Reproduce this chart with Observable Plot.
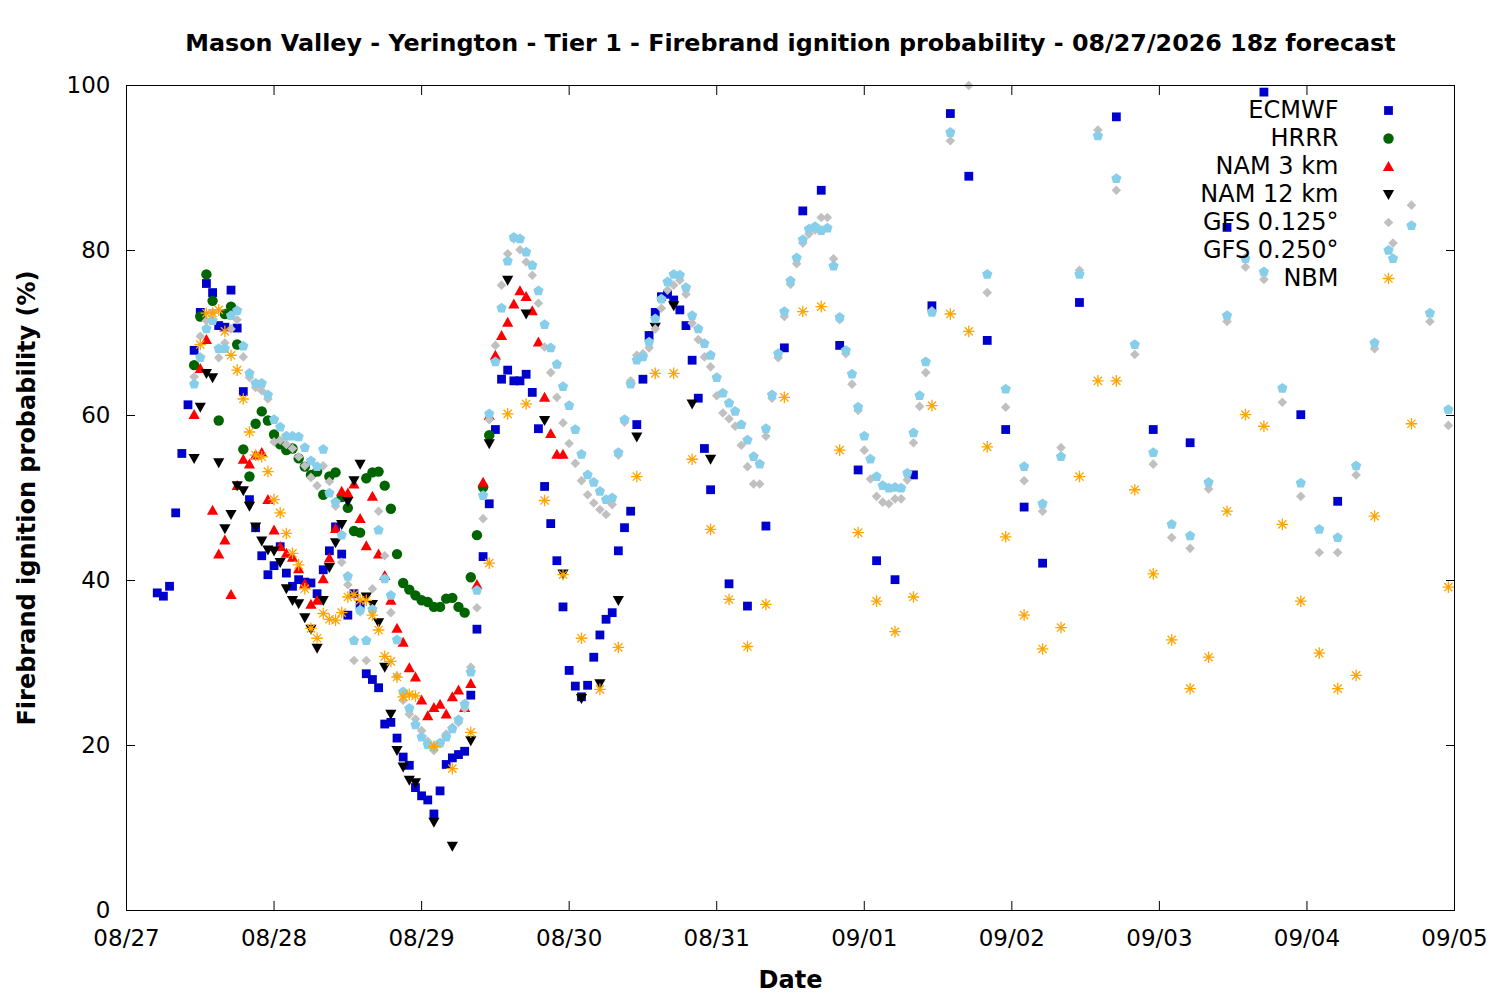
<!DOCTYPE html>
<html>
<head>
<meta charset="utf-8">
<script src="https://cdn.jsdelivr.net/npm/d3@7"></script>
<script src="https://cdn.jsdelivr.net/npm/@observablehq/plot@0.6"></script>
<style>
  html, body { margin: 0; padding: 0; background: #fff; }
  #chart { width: 1500px; height: 1000px; }
</style>
</head>
<body>
<div id="chart"></div>
<script>
// ---------- texts ----------
const titleText = "Mason Valley - Yerington - Tier 1 - Firebrand ignition probability - 08/27/2026 18z forecast";
const yLabelText = "Firebrand ignition probability (%)";
const xLabelText = "Date";
const seriesNames = ["ECMWF", "HRRR", "NAM 3 km", "NAM 12 km", "GFS 0.125°", "GFS 0.250°", "NBM"];
const xTickLabels = ["08/27", "08/28", "08/29", "08/30", "08/31", "09/01", "09/02", "09/03", "09/04", "09/05"];
const yTicks = [0, 20, 40, 60, 80, 100];

// ---------- values (hours counted from 08/27 00h) ----------
// ECMWF: hourly from h5, 3-hourly from h98, 6-hourly from h155
const ecmwfHourly = [38.5, 38.1, 39.3, 48.2, 55.4, 61.3, 67.9, 72.5, 76.0, 74.9, 70.9, 70.7, 75.2, 70.6, 62.9,
  49.8, 46.4, 43.0, 40.7, 41.8, 44.1, 40.9, 39.3, 40.1, 39.8, 39.7, 38.4, 41.3, 43.6, 46.5, 43.2, 35.8, 38.4, 37.0,
  28.7, 28.0, 27.0, 22.6, 22.8, 20.9, 18.6, 17.6, 14.9, 13.9, 13.4, 11.7, 14.5, 17.7, 18.5, 18.9, 19.3, 26.1, 34.1,
  42.9, 49.3, 58.3, 64.4, 65.5, 64.2, 64.2, 65.0, 62.8, 58.4, 51.4, 46.9, 42.4, 36.8, 29.1, 27.2, 25.9, 27.3, 30.7,
  33.4, 35.3, 36.1, 43.6, 46.4, 48.4, 58.9, 64.4, 69.7, 72.5, 74.4, 74.7, 74.0, 72.8, 70.9, 66.7, 62.1, 56.0, 51.0];
const ecmwf3h = [39.6, 36.9, 46.6, 68.2, 84.8, 87.3, 68.5, 53.4, 42.4, 40.1, 52.8, 73.3, 96.6, 89.0, 69.1, 58.3, 48.9, 42.1];
const ecmwf6h = [73.7, 96.2, 58.3, 56.7, 82.8, 99.2, 60.1, 49.6];

// HRRR: hourly from h11
const hrrrHourly = [66.1, 72.0, 77.1, 73.9, 59.4, 72.3, 73.2, 68.6, 55.9, 52.6, 59.0, 60.5, 59.4, 57.7, 56.5, 55.8,
  56.0, 54.8, 53.8, 52.8, 53.2, 50.4, 52.6, 53.1, 50.1, 48.8, 46.0, 45.8, 52.4, 53.1, 53.2, 51.5, 48.7, 43.2, 39.7,
  38.9, 38.2, 37.6, 37.4, 36.8, 36.8, 37.8, 37.9, 36.8, 36.1, 40.4, 45.5, 51.3, 57.6];

// NAM 3 km: hourly from h11
const nam3Hourly = [60.1, 65.7, 69.2, 48.5, 43.2, 44.9, 38.3, 51.5, 54.7, 54.1, 55.2, 55.5, 49.8, 46.1, 44.1, 43.3,
  42.8, 41.4, 39.6, 37.1, 37.6, 40.2, 42.7, 46.3, 50.8, 50.6, 51.7, 47.5, 44.2, 50.2, 43.2, 40.6, 37.6, 34.2, 32.5,
  29.4, 28.3, 25.5, 23.6, 24.6, 25.0, 23.8, 25.9, 26.7, 24.6, 27.5, 39.5, 51.9, 60.0, 67.3, 69.7, 71.3, 73.5, 75.1,
  74.4, 72.7, 68.9, 62.2, 57.8, 55.3, 55.3];

// NAM 12 km: hourly from h11, 3-hourly from h50
const nam12Hourly = [54.8, 61.0, 65.1, 64.6, 54.3, 46.3, 48.0, 51.5, 50.9, 49.0, 46.5, 44.8, 43.7, 43.6, 42.2, 39.0,
  37.6, 37.2, 35.5, 34.1, 31.8, 37.6, 41.6, 44.6, 46.8, 49.6, 52.1, 54.1, 38.0, 37.1, 34.9, 29.5, 23.8, 19.4, 17.4,
  15.8, 15.5];
const nam12_3h = [10.7, 7.8, 20.6, 56.6, 76.4, 72.3, 59.4, 40.8, 25.7, 27.5, 37.6, 57.4, 70.7, 73.3, 61.4, 54.7];

// GFS 0.125°: hourly from h11, 3-hourly from h134
const gfs0125Hourly = [64.7, 69.6, 71.5, 72.5, 67.0, 68.8, 70.5, 71.6, 67.1, 64.6, 63.4, 63.0, 62.0, 56.8, 57.0,
  56.5, 56.0, 55.0, 53.9, 52.5, 51.5, 53.9, 52.0, 49.0, 42.2, 39.5, 30.3, 36.2, 30.3, 39.0, 48.4, 43.0, 36.1, 28.4,
  25.5, 23.8, 23.2, 21.8, 20.5, 19.4, 20.2, 21.4, 22.2, 22.8, 24.5, 29.5, 36.7, 47.5, 59.5, 68.5, 75.8, 79.6, 81.4,
  80.1, 78.6, 77.0, 73.6, 68.3, 65.2, 62.2, 59.1, 56.6, 54.2, 52.1, 50.4, 49.4, 48.6, 48.0, 49.2, 55.2, 59.2, 64.2,
  67.3, 67.5, 68.2, 70.5, 73.0, 75.2, 75.8, 76.4, 74.7, 71.2, 69.2, 67.1, 65.9, 62.4, 60.3, 59.6, 58.7, 56.4, 53.8,
  51.7, 51.7, 57.5, 62.1, 67.0, 72.0, 75.9, 78.4, 80.9, 82.0, 82.5, 84.0, 84.0, 79.0, 71.6, 67.5, 63.8, 60.6, 55.8,
  52.3, 50.2, 49.5, 49.3, 49.9, 49.9, 52.2, 56.7, 61.1, 65.2, 72.7];
const gfs0125_3h = [93.3, 100.0, 74.9, 61.0, 52.1, 48.4, 56.1, 77.6, 94.6, 87.3, 67.4, 54.1, 45.2, 43.9, 51.1, 71.4,
  78.0, 76.5, 61.6, 50.2, 43.4, 43.4, 52.8, 68.1, 80.9, 85.5, 71.4, 58.8];

// GFS 0.250°: hourly from h11, 3-hourly from h134 (null = above the plot)
const gfs025Hourly = [63.8, 67.0, 70.5, 71.5, 68.1, 68.1, 72.1, 72.7, 68.4, 65.1, 63.9, 63.9, 62.5, 59.5, 58.6,
  57.5, 57.5, 57.4, 56.1, 54.5, 53.8, 55.9, 50.6, 49.5, 45.5, 40.5, 32.7, 36.4, 32.7, 36.5, 46.1, 40.2, 38.2, 32.8,
  26.5, 24.5, 22.5, 21.0, 20.1, 19.8, 20.3, 21.0, 22.0, 23.1, 25.0, 28.9, 38.8, 50.3, 60.2, 66.5, 73.0, 78.7, 81.6,
  81.4, 79.8, 78.2, 75.1, 71.0, 68.2, 66.2, 63.5, 61.2, 58.3, 55.3, 52.8, 51.9, 50.8, 49.8, 50.0, 55.5, 59.5, 63.8,
  66.7, 67.1, 68.9, 71.7, 74.1, 76.2, 77.1, 77.0, 75.5, 72.1, 70.5, 68.7, 67.3, 64.6, 62.7, 61.5, 60.5, 58.9, 57.0,
  55.0, 54.1, 58.4, 62.5, 67.5, 72.6, 76.3, 79.1, 81.3, 82.6, 82.9, 82.4, 82.7, 78.1, 71.9, 67.9, 65.0, 61.0, 57.5,
  54.7, 52.6, 51.5, 51.2, 51.3, 51.2, 53.0, 57.9, 62.4, 66.5, 72.5];
const gfs025_3h = [94.3, null, 77.1, 63.2, 53.8, 49.3, 55.0, 77.1, 93.9, 88.7, 68.6, 55.5, 46.8, 45.4, 51.9, 72.1,
  79.0, 77.4, 63.3, 51.8, 46.2, 45.2, 53.9, 68.8, 79.0, 83.0, 72.4, 60.7];

// NBM: hourly from h12, 3-hourly from h50, 6-hourly from h209
const nbmHourly = [68.6, 72.4, 72.4, 72.8, 70.2, 67.3, 65.5, 62.0, 58.0, 55.2, 55.0, 53.2, 49.8, 48.2, 45.7, 43.3,
  41.9, 39.0, 34.2, 33.0, 36.0, 35.3, 35.2, 36.1, 38.0, 38.3, 37.6, 37.6, 35.8, 34.0, 30.8, 30.2, 28.3, 25.9, 26.2, 26.0];
const nbm3h = [19.9, 17.2, 21.6, 42.1, 60.2, 61.4, 49.7, 40.7, 33.0, 26.8, 31.9, 52.6, 65.1, 65.1, 54.7, 46.2, 37.7,
  32.0, 37.1, 62.2, 72.6, 73.2, 55.8, 45.8, 37.5, 33.8, 38.0, 61.2, 72.3, 70.2, 56.2, 45.3, 35.8, 31.7, 34.3, 52.6,
  64.2, 64.2, 51.0, 40.8, 32.8, 26.9, 30.7, 48.4, 60.1, 58.7, 46.8, 37.5, 31.2, 26.9, 28.5, 47.8];
const nbm6h = [59.0, 39.2];

// ---------- build table ----------
const baseMs = Date.UTC(2026, 7, 27);
const seg = (values, startHour, step) => values.map((v, i) => ({h: startHour + i * step, v}));
const segments = {
  "ECMWF": [seg(ecmwfHourly, 5, 1), seg(ecmwf3h, 98, 3), seg(ecmwf6h, 155, 6)],
  "HRRR": [seg(hrrrHourly, 11, 1)],
  "NAM 3 km": [seg(nam3Hourly, 11, 1)],
  "NAM 12 km": [seg(nam12Hourly, 11, 1), seg(nam12_3h, 50, 3)],
  "GFS 0.125°": [seg(gfs0125Hourly, 11, 1), seg(gfs0125_3h, 134, 3)],
  "GFS 0.250°": [seg(gfs025Hourly, 11, 1), seg(gfs025_3h, 134, 3)],
  "NBM": [seg(nbmHourly, 12, 1), seg(nbm3h, 50, 3), seg(nbm6h, 209, 6)]
};
const rows = [];
for (const name of seriesNames) {
  for (const s of segments[name]) for (const p of s) {
    if (p.v == null) continue;
    rows.push({series: name, time: new Date(baseMs + p.h * 3600000), value: p.v});
  }
}
const xTicks = xTickLabels.map(l => {
  const [m, d] = l.split("/").map(Number);
  return new Date(Date.UTC(2026, m - 1, d));
});

// ---------- symbols ----------
const R = (size) => Math.sqrt(size / Math.PI) / 5;
const symSquare = {draw(c, size) { const k = R(size), s = 4.4 * k; c.rect(-s, -s, 2 * s, 2 * s); }};
const symCircle = {draw(c, size) { const k = R(size), r = 5.2 * k; c.moveTo(r, 0); c.arc(0, 0, r, 0, 2 * Math.PI); }};
const symUp = {draw(c, size) { const k = R(size); c.moveTo(0, -5.6 * k); c.lineTo(5.6 * k, 4.4 * k); c.lineTo(-5.6 * k, 4.4 * k); c.closePath(); }};
const symDown = {draw(c, size) { const k = R(size); c.moveTo(0, 5.6 * k); c.lineTo(5.6 * k, -4.4 * k); c.lineTo(-5.6 * k, -4.4 * k); c.closePath(); }};
const symDiamond = {draw(c, size) { const k = R(size), s = 4.8 * k; c.moveTo(0, -s); c.lineTo(s, 0); c.lineTo(0, s); c.lineTo(-s, 0); c.closePath(); }};
const symPentagon = {draw(c, size) {
  const k = R(size), r = 5.4 * k;
  for (let i = 0; i < 5; i++) {
    const a = -Math.PI / 2 + i * 2 * Math.PI / 5;
    if (i === 0) c.moveTo(r * Math.cos(a), r * Math.sin(a)); else c.lineTo(r * Math.cos(a), r * Math.sin(a));
  }
  c.closePath();
}};
const symStar8 = {draw(c, size) {
  const k = R(size), r = 5.8 * k;
  for (let i = 0; i < 4; i++) {
    const a = i * Math.PI / 4;
    c.moveTo(-r * Math.cos(a), -r * Math.sin(a)); c.lineTo(r * Math.cos(a), r * Math.sin(a));
  }
}};
const styles = {
  "ECMWF": {symbol: symSquare, fill: "#0000cd", stroke: "none"},
  "HRRR": {symbol: symCircle, fill: "#006400", stroke: "none"},
  "NAM 3 km": {symbol: symUp, fill: "#ff0000", stroke: "none"},
  "NAM 12 km": {symbol: symDown, fill: "#000000", stroke: "none"},
  "GFS 0.125°": {symbol: symDiamond, fill: "#c0c0c0", stroke: "none"},
  "GFS 0.250°": {symbol: symPentagon, fill: "#87ceeb", stroke: "none"},
  "NBM": {symbol: symStar8, fill: "none", stroke: "#ffa500", strokeWidth: 1.3}
};

// ---------- plot ----------
const marks = [];
for (const name of seriesNames) {
  marks.push(Plot.dot(rows.filter(d => d.series === name), {x: "time", y: "value", r: 5, ...styles[name]}));
}
marks.push(Plot.frame({stroke: "black", strokeWidth: 1}));
marks.push(Plot.axisX({anchor: "bottom", ticks: xTicks, tickSize: -9, tickPadding: 28,
  tickFormat: (d, i) => xTickLabels[i], label: null, fontSize: 23}));
marks.push(Plot.axisX({anchor: "top", ticks: xTicks, tickSize: -9, tickFormat: () => "", label: null}));
marks.push(Plot.axisY({anchor: "left", ticks: yTicks, tickSize: -9, tickPadding: 25,
  tickFormat: d => String(d), label: null, fontSize: 23}));
marks.push(Plot.axisY({anchor: "right", ticks: yTicks, tickSize: -9, tickFormat: () => "", label: null}));
marks.push(Plot.text([titleText], {frameAnchor: "top", dy: -42, text: d => d, fontWeight: "bold", fontSize: 23.8,
  textAnchor: "middle", lineAnchor: "middle"}));
marks.push(Plot.text([yLabelText], {frameAnchor: "left", dx: -99, rotate: -90, text: d => d, fontWeight: "bold", fontSize: 24,
  textAnchor: "middle", lineAnchor: "middle"}));
marks.push(Plot.text([xLabelText], {frameAnchor: "bottom", dy: 70, text: d => d, fontWeight: "bold", fontSize: 24,
  textAnchor: "middle", lineAnchor: "middle"}));
seriesNames.forEach((name, i) => {
  marks.push(Plot.text([name], {frameAnchor: "top-right", dx: -116, dy: 25 + 28 * i, text: d => d,
    textAnchor: "end", lineAnchor: "middle", fontSize: 24}));
  marks.push(Plot.dot([name], {frameAnchor: "top-right", dx: -66, dy: 25 + 28 * i, r: 5, ...styles[name]}));
});

const chart = Plot.plot({
  width: 1500,
  height: 1000,
  marginLeft: 126,
  marginRight: 46,
  marginTop: 85,
  marginBottom: 90,
  style: {fontFamily: "DejaVu Sans", fontSize: "22px", background: "#fff", color: "#000"},
  x: {type: "utc", domain: [xTicks[0], xTicks[xTicks.length - 1]]},
  y: {domain: [0, 100]},
  marks
});
document.getElementById("chart").appendChild(chart);
</script>
</body>
</html>
